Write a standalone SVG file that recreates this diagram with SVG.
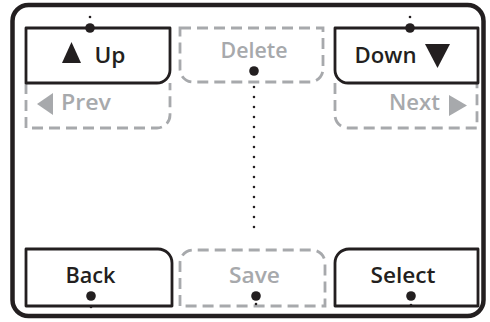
<svg xmlns="http://www.w3.org/2000/svg" width="490" height="322" viewBox="0 0 490 322">
<style>
.frame{fill:#fff;stroke:#231f20;stroke-width:4.5}
.box{fill:#fff;stroke:#231f20;stroke-width:2.8;stroke-linejoin:round}
.ghost{fill:none;stroke:#a7a9ac;stroke-width:2.8;stroke-dasharray:11 6}
.t{font-family:"Open Sans","Liberation Sans",sans-serif;font-weight:600;font-size:22px;fill:#231f20}
.g{fill:#a7a9ac}
.dot{fill:#231f20}
.dotted{fill:none;stroke:#231f20;stroke-width:2.6;stroke-linecap:round;stroke-dasharray:0 10}
</style>
<rect class="frame" x="12.5" y="5" width="471" height="311" rx="16"/>
<g id="prev">
<path class="ghost" d="M26,83 V128 H157 A13,13 0 0 0 170,115 V83"/>
<polygon class="g" points="53,93 53,115 37,104"/>
<text class="t g" x="61" y="110" textLength="50" lengthAdjust="spacingAndGlyphs">Prev</text>
</g>
<g id="next">
<path class="ghost" d="M335,83 V115 A13,13 0 0 0 348,128 H477 V83"/>
<polygon class="g" points="449,95 449,116 467,105.5"/>
<text class="t g" x="389" y="110" textLength="51" lengthAdjust="spacingAndGlyphs">Next</text>
</g>
<g id="delete">
<path class="ghost" d="M180,28 H323 V69 A13,13 0 0 1 310,82 H193 A13,13 0 0 1 180,69 Z"/>
<text class="t g" x="220.5" y="58" textLength="67" lengthAdjust="spacingAndGlyphs">Delete</text>
</g>
<g id="save">
<path class="ghost" d="M180,306 V263 A13,13 0 0 1 193,250 H312 A13,13 0 0 1 325,263 V306 Z"/>
<text class="t g" x="229" y="283" textLength="51" lengthAdjust="spacingAndGlyphs">Save</text>
</g>
<g id="up">
<path class="box" d="M26,28 H170 V70 A13,13 0 0 1 157,83 H26 Z"/>
<polygon fill="#231f20" points="62,63 71.5,42 81,63"/>
<text class="t" x="94.5" y="63" textLength="31" lengthAdjust="spacingAndGlyphs">Up</text>
</g>
<g id="down">
<path class="box" d="M335,28 H478 V83 H348 A13,13 0 0 1 335,70 Z"/>
<polygon fill="#231f20" points="425,44 450,44 437.5,68"/>
<text class="t" x="354.5" y="63" textLength="62" lengthAdjust="spacingAndGlyphs">Down</text>
</g>
<g id="back">
<path class="box" d="M26,306 V249 H158 A14,14 0 0 1 172,263 V306 Z"/>
<text class="t" x="65.5" y="283" textLength="50" lengthAdjust="spacingAndGlyphs">Back</text>
</g>
<g id="select">
<path class="box" d="M335,306 V263 A14,14 0 0 1 349,249 H478 V306 Z"/>
<text class="t" x="370.5" y="283" textLength="65" lengthAdjust="spacingAndGlyphs">Select</text>
</g>
<g id="connectors">
<line class="dotted" x1="90" y1="17" x2="90" y2="7"/>
<line class="dotted" x1="410" y1="17" x2="410" y2="7"/>
<line class="dotted" x1="254" y1="87" x2="254" y2="237"/>
<line class="dotted" x1="91" y1="307" x2="91" y2="317"/>
<line class="dotted" x1="256" y1="304" x2="256" y2="314"/>
<line class="dotted" x1="411" y1="305" x2="411" y2="315"/>
<circle class="dot" cx="90" cy="28" r="4.8"/>
<circle class="dot" cx="410" cy="28" r="4.8"/>
<circle class="dot" cx="254" cy="71" r="4.8"/>
<circle class="dot" cx="91" cy="296" r="4.8"/>
<circle class="dot" cx="256" cy="296" r="4.8"/>
<circle class="dot" cx="411" cy="296" r="4.8"/>
</g>
</svg>
